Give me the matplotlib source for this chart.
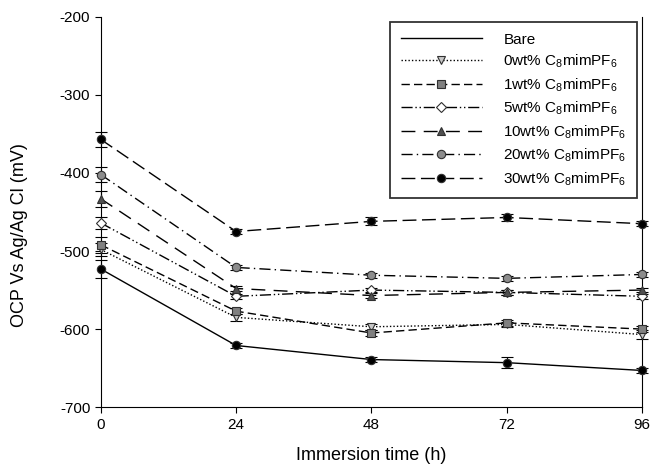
import matplotlib
matplotlib.use("Agg")
import matplotlib.pyplot as plt
from matplotlib.lines import Line2D

plt.rcParams['font.family'] = ['Liberation Sans', 'DejaVu Sans']
plt.rcParams['mathtext.fontset'] = 'custom'
plt.rcParams['mathtext.rm'] = 'Liberation Sans'
plt.rcParams['mathtext.default'] = 'regular'
plt.rcParams['axes.unicode_minus'] = False

# immersion time (h)
hours = [0, 24, 48, 72, 96]

# OCP values (mV)
bare = [-523, -621, -639, -643, -653]
wt0 = [-498, -585, -597, -594, -607]
wt1 = [-492, -577, -605, -592, -600]
wt5 = [-464, -558, -550, -553, -558]
wt10 = [-433, -548, -557, -553, -550]
wt20 = [-402, -521, -531, -535, -530]
wt30 = [-357, -475, -462, -457, -465]

# error bars (mV)
err_bare = [12, 3, 3, 7, 3]
err_wt0 = [8, 4, 4, 3, 6]
err_wt1 = [10, 4, 4, 4, 4]
err_wt5 = [8, 3, 3, 3, 3]
err_wt10 = [10, 3, 3, 3, 3]
err_wt20 = [10, 3, 3, 3, 3]
err_wt30 = [10, 3, 5, 4, 3]

labels = ['Bare', '0wt% C$_8$mimPF$_6$', '1wt% C$_8$mimPF$_6$', '5wt% C$_8$mimPF$_6$',
          '10wt% C$_8$mimPF$_6$', '20wt% C$_8$mimPF$_6$', '30wt% C$_8$mimPF$_6$']

series = [bare, wt0, wt1, wt5, wt10, wt20, wt30]
errors = [err_bare, err_wt0, err_wt1, err_wt5, err_wt10, err_wt20, err_wt30]

# (linestyle, marker, face colour)
styles = [
    ('-', 'o', 'black'),
    ((0, (1, 1.5)), 'v', '#c8c8c8'),
    ((0, (6, 3)), 's', '#808080'),
    ((0, (8, 2, 1, 2, 1, 2)), 'D', 'white'),
    ((0, (10, 6)), '^', '#505050'),
    ((0, (8, 3, 1, 3)), 'o', '#8c8c8c'),
    ((0, (10, 4)), 'o', 'black'),
]

fig, ax = plt.subplots(figsize=(6.5, 4.68), dpi=100)
fig.subplots_adjust(left=0.155, right=0.988, top=0.964, bottom=0.13)

handles = []
for i in range(len(series)):
    ls, mk, fc = styles[i]
    ms = 6 if mk != 'D' else 5
    ax.errorbar(hours, series[i], yerr=errors[i], color='black', linestyle=ls, linewidth=1,
                marker=mk, markersize=ms, markerfacecolor=fc, markeredgecolor='#303030',
                markeredgewidth=0.8, capsize=4, elinewidth=0.8, clip_on=False, zorder=3)
    # legend shows no marker for the bare line
    if i == 0:
        handles.append(Line2D([], [], color='black', linestyle=ls, linewidth=1))
    else:
        handles.append(Line2D([], [], color='black', linestyle=ls, linewidth=1, marker=mk,
                              markersize=ms, markerfacecolor=fc, markeredgecolor='#303030',
                              markeredgewidth=0.8))

ax.set_xlim(0, 96)
ax.set_ylim(-700, -200)
ax.set_xticks(hours)
ax.set_yticks([-700, -600, -500, -400, -300, -200])
ax.tick_params(labelsize=11, direction='out', length=4)
ax.spines['top'].set_visible(False)
ax.set_xlabel('Immersion time (h)', fontsize=13, labelpad=11)
ax.set_ylabel('OCP Vs Ag/Ag Cl (mV)', fontsize=13)
ax.yaxis.set_label_coords(-0.135, 0.44)

leg = ax.legend(handles, labels, loc='upper right', bbox_to_anchor=(0.991, 0.987),
                borderaxespad=0, fontsize=11, frameon=True, fancybox=False, edgecolor='black',
                handlelength=5.3, handletextpad=1.4, labelspacing=0.4, borderpad=0.7)
leg.get_frame().set_linewidth(1.3)

fig.savefig('out.png', dpi=100)
